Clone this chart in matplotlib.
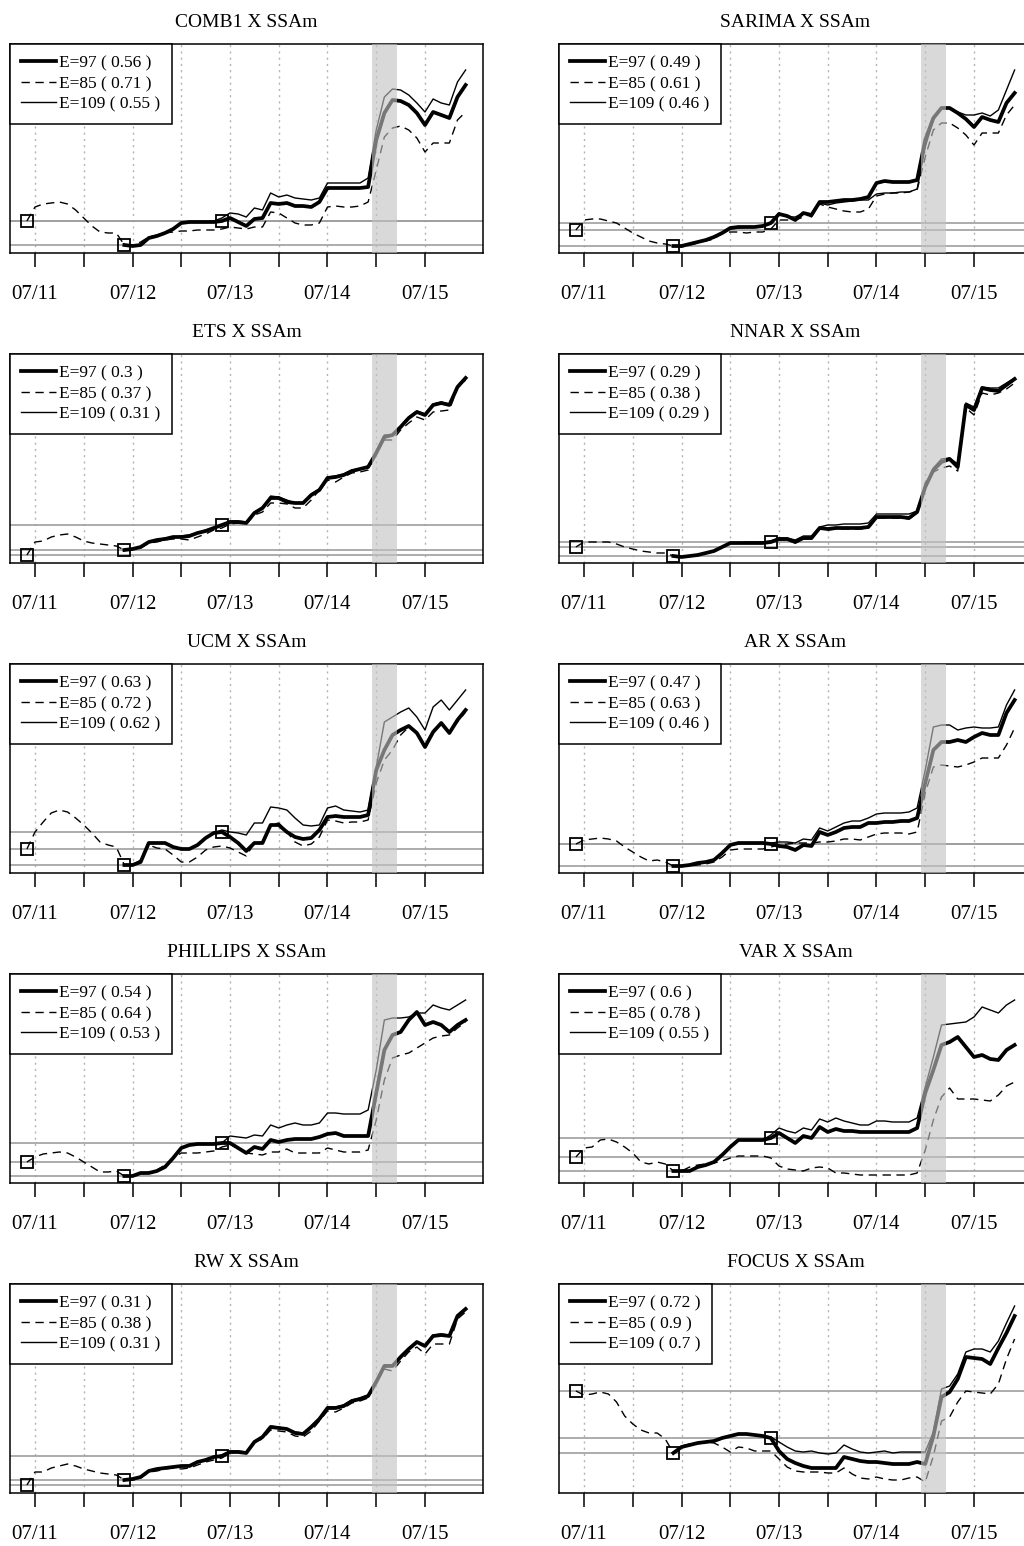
import numpy as np
import matplotlib.pyplot as plt

plt.rcParams['font.family'] = ['Liberation Serif', 'DejaVu Serif']

titles = ['COMB1', 'SARIMA', 'ETS', 'NNAR', 'UCM', 'AR', 'PHILLIPS', 'VAR', 'RW', 'FOCUS']
rmse_97 = [0.56, 0.49, 0.3, 0.29, 0.63, 0.47, 0.54, 0.6, 0.31, 0.72]
rmse_85 = [0.71, 0.61, 0.37, 0.38, 0.72, 0.63, 0.64, 0.78, 0.38, 0.9]
rmse_109 = [0.55, 0.46, 0.31, 0.29, 0.62, 0.46, 0.53, 0.55, 0.31, 0.7]

# months counted from 07/2011; E=85 starts a year before the other two
months_85 = np.arange(-1, 54)
months_97 = np.arange(11, 54)
tick_months = np.arange(0, 49, 6)
tick_labels = ['07/11', '', '07/12', '', '07/13', '', '07/14', '', '07/15']
shade_start, shade_end = 41.5, 44.5

comb1_85 = [32, 46, 49, 50, 51, 49, 43, 35, 27, 21, 20, 20,
            8, 7, 11, 16, 18, 20, 21, 22, 22, 23, 23, 23,
            24, 26, 25, 24, 26, 26, 41, 40, 35, 30, 28, 28,
            30, 46, 47, 46, 46, 47, 51, 83, 116, 125, 127, 123,
            115, 101, 110, 110, 110, 133, 141]
comb1_97 = [8, 7, 8, 15, 17, 20, 24, 30, 31, 31, 31, 31,
            32, 35, 31, 27, 34, 35, 50, 49, 50, 47, 47, 46,
            51, 65, 65, 65, 65, 65, 66, 113, 140, 153, 152, 148,
            140, 128, 141, 138, 135, 156, 168]
comb1_109 = [8, 7, 8, 15, 17, 20, 24, 30, 31, 31, 31, 32,
             35, 40, 39, 36, 45, 43, 60, 56, 58, 55, 54, 53,
             55, 70, 70, 70, 70, 70, 75, 123, 156, 164, 163, 158,
             150, 141, 154, 150, 148, 171, 183]

sarima_85 = [23, 33, 34, 34, 32, 30, 25, 20, 16, 12, 10, 9,
             7, 6, 8, 10, 12, 14, 20, 21, 21, 20, 21, 21,
             24, 33, 33, 33, 36, 39, 49, 46, 44, 42, 41, 41,
             44, 57, 59, 60, 60, 61, 63, 96, 123, 130, 130, 125,
             118, 108, 120, 120, 120, 138, 148]
sarima_97 = [7, 7, 9, 11, 13, 16, 20, 25, 26, 26, 26, 27,
             30, 39, 37, 33, 40, 38, 51, 51, 52, 53, 53, 54,
             56, 70, 72, 71, 71, 71, 73, 113, 135, 145, 145, 140,
             134, 126, 136, 133, 131, 150, 160]
sarima_109 = [7, 7, 9, 11, 13, 16, 19, 24, 25, 26, 26, 27,
              31, 40, 36, 36, 40, 36, 50, 48, 50, 51, 52, 53,
              53, 59, 60, 60, 61, 61, 64, 106, 133, 145, 145, 141,
              138, 138, 140, 137, 143, 163, 183]

ets_85 = [8, 21, 22, 26, 28, 29, 26, 22, 20, 19, 18, 17,
          13, 14, 15, 20, 21, 23, 24, 24, 23, 26, 29, 33,
          35, 39, 40, 39, 48, 51, 60, 60, 59, 55, 55, 63,
          73, 83, 81, 86, 90, 91, 93, 110, 123, 123, 133, 140,
          146, 143, 151, 152, 153, 175, 183]
ets_97 = [13, 14, 16, 21, 23, 24, 26, 26, 27, 30, 32, 35,
          38, 41, 41, 40, 50, 55, 65, 65, 61, 60, 60, 68,
          73, 85, 86, 88, 92, 94, 96, 110, 126, 128, 136, 145,
          151, 148, 158, 160, 158, 176, 185]
ets_109 = [13, 14, 16, 21, 23, 25, 26, 27, 28, 30, 33, 35,
           38, 42, 42, 41, 51, 55, 67, 66, 63, 60, 60, 69,
           74, 86, 87, 89, 93, 94, 97, 112, 128, 128, 137, 146,
           152, 149, 159, 161, 159, 177, 186]

nnar_85 = [16, 21, 21, 21, 21, 19, 16, 14, 12, 11, 10, 10,
           7, 6, 7, 8, 10, 12, 16, 20, 20, 20, 20, 20,
           21, 23, 23, 20, 24, 24, 34, 33, 34, 34, 34, 34,
           35, 45, 45, 45, 45, 44, 50, 80, 91, 95, 97, 92,
           155, 148, 170, 168, 170, 174, 180]
nnar_97 = [7, 6, 7, 8, 10, 12, 16, 20, 20, 20, 20, 20,
           21, 24, 24, 21, 25, 25, 35, 34, 35, 35, 35, 35,
           36, 46, 46, 46, 46, 45, 51, 76, 93, 101, 104, 96,
           158, 153, 175, 173, 172, 178, 184]
nnar_109 = [7, 6, 7, 8, 10, 12, 16, 20, 20, 21, 21, 21,
            22, 25, 25, 23, 27, 27, 36, 38, 38, 39, 39, 39,
            40, 49, 49, 49, 49, 49, 52, 76, 95, 104, 105, 99,
            160, 156, 176, 175, 175, 180, 185]

ucm_85 = [24, 41, 51, 60, 63, 61, 55, 48, 40, 31, 28, 26,
          8, 8, 13, 28, 25, 24, 18, 11, 11, 16, 23, 26,
          27, 25, 21, 17, 30, 31, 48, 50, 41, 31, 27, 29,
          36, 53, 52, 50, 51, 51, 53, 90, 113, 123, 138, 146,
          140, 127, 143, 149, 141, 151, 161]
ucm_97 = [8, 8, 11, 30, 30, 30, 26, 24, 24, 28, 35, 40,
          41, 36, 30, 22, 30, 30, 48, 48, 41, 36, 34, 35,
          43, 56, 57, 56, 56, 56, 58, 103, 123, 138, 143, 147,
          140, 126, 141, 150, 140, 153, 163]
ucm_109 = [8, 8, 11, 30, 30, 30, 26, 24, 24, 28, 35, 40,
           43, 41, 40, 38, 50, 50, 66, 65, 63, 55, 48, 47,
           48, 65, 67, 63, 62, 61, 63, 106, 151, 156, 161, 165,
           156, 143, 166, 173, 163, 173, 183]

ar_85 = [29, 33, 34, 35, 34, 32, 26, 21, 16, 12, 13, 11,
         7, 7, 7, 8, 9, 11, 16, 23, 24, 24, 24, 24,
         26, 28, 29, 30, 30, 30, 31, 31, 32, 34, 34, 33,
         36, 39, 40, 40, 40, 39, 41, 80, 106, 108, 107, 106,
         108, 111, 115, 115, 115, 128, 145]
ar_97 = [7, 7, 8, 10, 11, 13, 20, 28, 30, 30, 30, 30,
         29, 27, 26, 23, 28, 27, 41, 38, 41, 45, 46, 46,
         50, 50, 51, 51, 52, 52, 55, 90, 123, 131, 131, 133,
         131, 136, 140, 138, 138, 160, 173]
ar_109 = [7, 7, 8, 10, 11, 13, 20, 28, 30, 30, 30, 30,
          30, 31, 31, 30, 34, 33, 45, 42, 46, 50, 52, 52,
          55, 59, 60, 60, 60, 61, 65, 103, 146, 148, 148, 143,
          145, 146, 145, 145, 146, 168, 183]

phillips_85 = [21, 26, 29, 30, 31, 30, 26, 21, 16, 11, 11, 12,
               7, 7, 8, 11, 13, 18, 25, 30, 30, 30, 31, 32,
               36, 38, 35, 30, 29, 28, 31, 31, 34, 30, 30, 30,
               30, 35, 33, 31, 31, 31, 33, 63, 103, 125, 128, 130,
               135, 140, 145, 147, 148, 155, 161]
phillips_97 = [7, 7, 10, 10, 12, 16, 25, 35, 38, 39, 39, 39,
               40, 40, 35, 30, 36, 34, 43, 41, 43, 44, 44, 44,
               46, 49, 50, 47, 47, 47, 47, 90, 133, 148, 151, 163,
               171, 158, 161, 158, 151, 158, 163]
phillips_109 = [7, 7, 10, 10, 12, 16, 25, 35, 38, 39, 39, 39,
                40, 47, 46, 45, 48, 47, 58, 55, 58, 60, 58, 58,
                60, 70, 70, 69, 69, 69, 73, 113, 163, 165, 165, 166,
                170, 170, 178, 175, 173, 178, 183]

var_85 = [26, 35, 36, 43, 44, 41, 36, 30, 21, 19, 21, 19,
          12, 12, 16, 18, 19, 20, 22, 25, 27, 27, 27, 27,
          25, 17, 14, 13, 12, 15, 16, 15, 10, 10, 9, 8,
          8, 8, 8, 8, 8, 8, 10, 33, 63, 86, 95, 84,
          84, 84, 83, 82, 88, 97, 101]
var_97 = [12, 12, 12, 16, 18, 21, 28, 36, 43, 43, 43, 43,
          45, 50, 45, 40, 47, 45, 56, 51, 54, 52, 52, 51,
          51, 51, 51, 51, 51, 51, 55, 90, 113, 138, 141, 146,
          136, 126, 128, 124, 123, 133, 138]
var_109 = [12, 12, 12, 16, 18, 21, 28, 36, 43, 43, 43, 43,
           48, 55, 52, 50, 55, 53, 64, 61, 65, 62, 60, 58,
           58, 62, 62, 61, 61, 61, 65, 96, 126, 158, 159, 160,
           161, 166, 176, 173, 170, 178, 183]

rw_85 = [8, 21, 21, 25, 27, 29, 27, 24, 22, 20, 19, 18,
         13, 13, 15, 21, 22, 24, 25, 24, 25, 28, 31, 33,
         35, 40, 41, 40, 51, 54, 63, 62, 61, 57, 56, 62,
         72, 82, 81, 85, 90, 92, 95, 111, 124, 122, 132, 141,
         146, 139, 149, 149, 149, 174, 181]
rw_97 = [13, 14, 16, 22, 24, 25, 26, 27, 27, 31, 33, 36,
         37, 41, 41, 40, 51, 56, 66, 65, 64, 60, 59, 66,
         74, 85, 85, 87, 92, 94, 97, 111, 127, 127, 136, 144,
         151, 147, 157, 158, 157, 177, 184]
rw_109 = [13, 14, 16, 22, 24, 25, 26, 27, 28, 31, 33, 36,
          38, 42, 42, 41, 52, 56, 67, 66, 64, 61, 60, 67,
          75, 86, 86, 88, 93, 95, 98, 113, 128, 128, 137, 145,
          151, 148, 158, 159, 158, 178, 185]

focus_85 = [102, 98, 99, 101, 99, 91, 77, 69, 63, 60, 60, 54,
            40, 47, 49, 50, 51, 50, 46, 41, 46, 45, 42, 42,
            42, 34, 26, 22, 21, 21, 21, 20, 20, 25, 19, 15,
            14, 16, 14, 13, 13, 15, 16, 11, 37, 72, 76, 91,
            102, 101, 100, 99, 109, 134, 154]
focus_97 = [40, 46, 48, 50, 51, 52, 55, 57, 59, 59, 58, 57,
            55, 42, 34, 30, 27, 25, 25, 25, 25, 36, 34, 32,
            31, 31, 30, 29, 29, 29, 31, 29, 57, 96, 101, 114,
            136, 135, 134, 129, 145, 160, 177]
focus_109 = [40, 46, 48, 50, 51, 52, 55, 57, 59, 59, 58, 57,
             56, 51, 46, 42, 41, 42, 40, 39, 40, 48, 44, 41,
             40, 41, 42, 40, 41, 41, 41, 41, 61, 104, 107, 119,
             141, 144, 144, 141, 152, 170, 187]

series_85 = [comb1_85, sarima_85, ets_85, nnar_85, ucm_85, ar_85, phillips_85, var_85, rw_85, focus_85]
series_97 = [comb1_97, sarima_97, ets_97, nnar_97, ucm_97, ar_97, phillips_97, var_97, rw_97, focus_97]
series_109 = [comb1_109, sarima_109, ets_109, nnar_109, ucm_109, ar_109, phillips_109, var_109, rw_109, focus_109]

fig = plt.figure(figsize=(10.24, 15.46), dpi=100)

for i in range(10):
    row, col = divmod(i, 2)
    left = [10, 559][col] / 1024
    bottom = 1 - (253 + 310 * row) / 1546
    ax = fig.add_axes([left, bottom, 473 / 1024, 209 / 1546])

    y85 = series_85[i]
    y97 = series_97[i]
    y109 = series_109[i]

    for m in tick_months:
        ax.axvline(m, color='0.7', lw=1, ls=(0, (1.5, 3)), zorder=1)

    # reference points and their levels
    ref_x = [months_85[0], months_97[0], months_97[12]]
    ref_y = [y85[0], y97[0], y97[12]]
    for v in ref_y:
        ax.axhline(v, color='0.62', lw=1.2, zorder=1)

    h97, = ax.plot(months_97, y97, color='black', lw=2.7, zorder=3, label=f'E=97 ( {rmse_97[i]} )')
    h85, = ax.plot(months_85, y85, color='black', lw=1.0, ls=(0, (6, 4)), zorder=3, label=f'E=85 ( {rmse_85[i]} )')
    h109, = ax.plot(months_97, y109, color='black', lw=1.0, zorder=4, label=f'E=109 ( {rmse_109[i]} )')
    ax.plot(ref_x, ref_y, ls='none', marker='s', ms=9, mfc='none', mec='black', mew=1.3, zorder=5)

    ax.axvspan(shade_start, shade_end, color='0.76', alpha=0.62, lw=0, zorder=6)

    ax.set_xlim(-3.08, 55.14)
    ax.set_ylim(0, 209)
    ax.set_yticks([])
    ax.set_xticks(tick_months)
    ax.set_xticklabels(tick_labels, fontsize=15)
    ax.tick_params(axis='x', direction='out', length=10, width=1.1, pad=13)
    for s in ax.spines.values():
        s.set_linewidth(1.1)
    ax.set_title(f'{titles[i]} X SSAm', fontsize=14, pad=12.5)

    leg = ax.legend(handles=[h97, h85, h109], loc='upper left', bbox_to_anchor=(0, 1),
                    borderaxespad=0, fancybox=False, edgecolor='black', framealpha=1,
                    fontsize=12.5, handlelength=2.0, handletextpad=0.2,
                    labelspacing=0.25, borderpad=0.65)
    leg.get_frame().set_linewidth(1.1)
    leg.set_zorder(10)

fig.savefig('out.png', dpi=100)
